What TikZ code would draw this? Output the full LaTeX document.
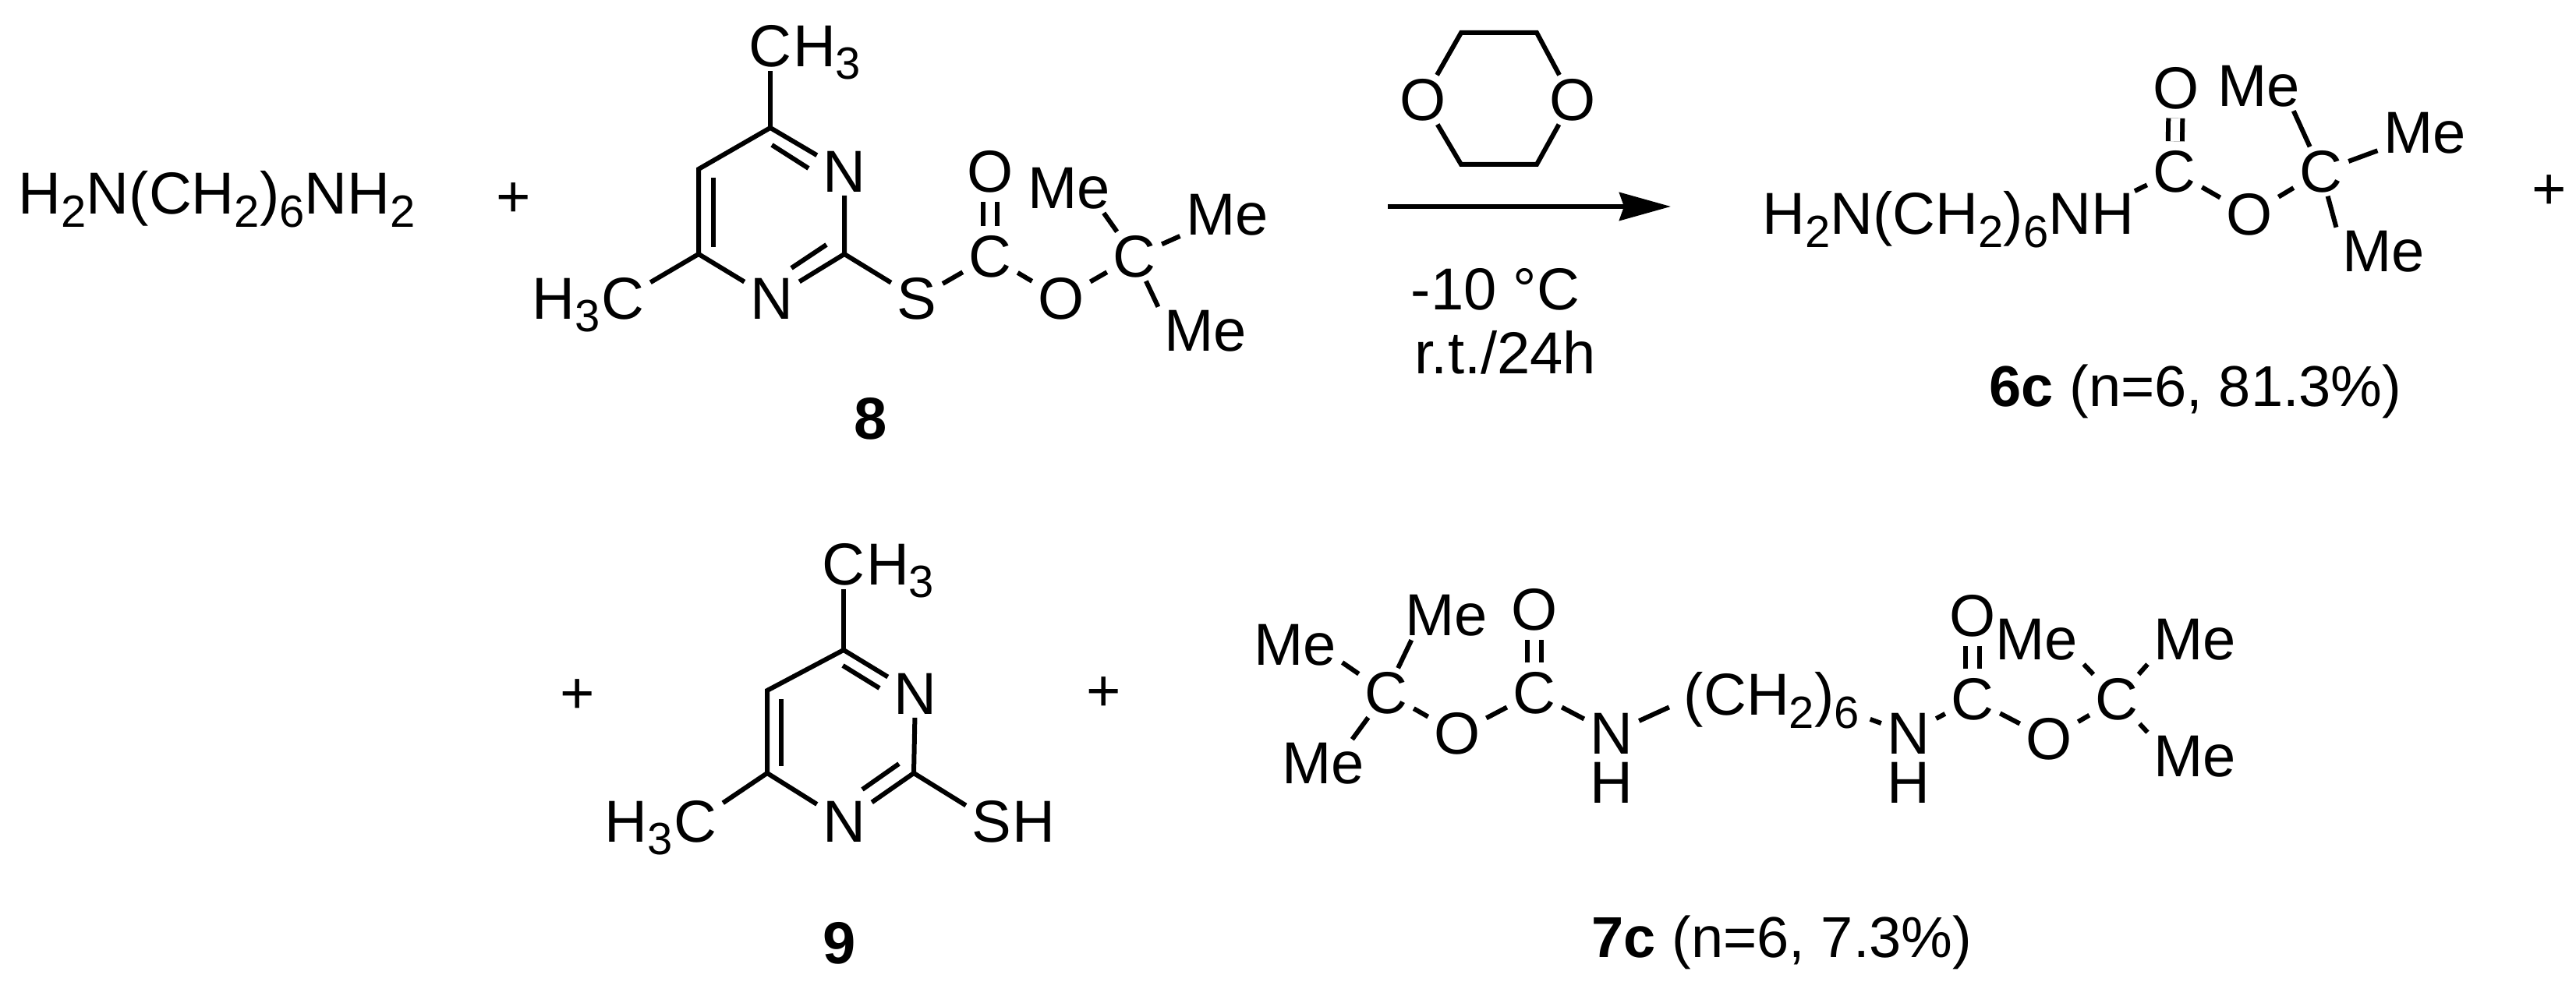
\documentclass[tikz,border=0pt]{standalone}
\usepackage{fontspec}
\setmainfont{Liberation Sans}
\usetikzlibrary{arrows.meta,positioning}

\newcommand{\subnum}[1]{\raisebox{-4.2pt}{\fontsize{14.5}{16}\selectfont #1}}

\tikzset{
	atom/.style={inner xsep=1.75pt, inner ysep=1pt},
	group/.style={inner sep=0pt},
	yield/.style={inner sep=0pt, anchor=base west, font=\fontsize{18.5}{22}\selectfont},
	bond/.style={line width=1.5pt},
	dbond/.style={line width=1.5pt, double, double distance=3pt, shorten <=1.75pt, shorten >=1.75pt},
}

\begin{document}
\begin{tikzpicture}[x=0.25pt, y=-0.25pt]

\def\width{3304}
\def\height{1269}

\fontsize{19}{23}\selectfont
\path [use as bounding box] (0,0) rectangle (\width,\height);

% DIAMINE
\node [group, anchor=base west] (diamine) at (23,275) {H\subnum{2}N(CH\subnum{2})\subnum{6}NH\subnum{2}};
\node [group] (plusa) at (659,257) {+};

% THIOCARBONATE 8
\coordinate (ra1) at (988,164);
\coordinate (ra2) at (896,217);
\coordinate (ra3) at (896,326);
\coordinate (ra4) at (1083,326);
\node [atom] (rna) at (1083,220) {N};
\node [atom] (rnb) at (990,383) {N};
\node [atom] (cha) at (988,59) {C};
\node [group, base right=-1.75pt of cha] (cha3) {H\subnum{3}};
\node [atom] (chb) at (799,383) {C};
\node [group, base left=-1.75pt of chb] (chb3) {H\subnum{3}};
\node [atom] (sa) at (1176,383) {S};
\node [atom] (ca) at (1270,329) {C};
\node [atom] (oa) at (1270,220) {O};
\node [atom] (oe) at (1361,383) {O};
\node [atom] (qa) at (1455,329) {C};
\node [atom] (mea) at (1371,242) {Me};
\node [atom] (meb) at (1574,276) {Me};
\node [atom] (mec) at (1546,425) {Me};
\node [group] (laba) at (1117,537) {\textbf{8}};
\draw [bond] (ra1) -- (cha.south -| ra1);
\draw [bond, line join=miter] (rna) -- (ra1) -- (ra2) -- (ra3) -- (rnb);
\draw [bond] (rnb) -- (ra4) -- (rna);
\draw [bond] (ra3) -- (chb);
\draw [bond] (ra4) -- (sa);
\draw [bond] (sa) -- (ca);
\draw [bond] (ca) -- (oe);
\draw [bond] (oe) -- (qa);
\draw [dbond] (ca) -- (oa);
\draw [bond] (mea.-35) -- (qa);
\draw [bond] (meb) -- (qa);
\draw [bond] (mec.north west) -- (qa);
\coordinate (ia1) at (990,186); \coordinate (ia2) at (1037,216);
\coordinate (ia3) at (915,228); \coordinate (ia4) at (915,317);
\coordinate (ia5) at (1060,314); \coordinate (ia6) at (1015,344);
\draw [bond] (ia1) -- (ia2);
\draw [bond] (ia3) -- (ia4);
\draw [bond] (ia5) -- (ia6);

% CONDITIONS
\coordinate (da1) at (1874,42);
\coordinate (da2) at (1971,42);
\coordinate (da3) at (1971,211);
\coordinate (da4) at (1874,211);
\node [atom] (dol) at (1825,128) {O};
\node [atom] (dor) at (2017,128) {O};
\draw [bond] (dol) -- (da1) -- (da2) -- (dor);
\draw [bond] (dor) -- (da3) -- (da4) -- (dol);
\coordinate (arrs) at (1780,265);
\coordinate (arre) at (2143,265);
\draw [bond, -{Stealth[length=16.5pt, width=9pt, inset=1.5pt]}] (arrs) -- (arre);
\node [group, anchor=base] (temp) at (1918,398) {-10 °C};
\node [group, anchor=base] (time) at (1931,480) {r.t./24h};

% PRODUCT 6C
\node [group, anchor=base east] (mono) at (2738,301) {H\subnum{2}N(CH\subnum{2})\subnum{6}NH};
\node [atom] (cb) at (2789,220) {C};
\node [atom] (ob) at (2791,113) {O};
\node [atom] (oc) at (2885,275) {O};
\node [atom] (qb) at (2977,220) {C};
\node [atom] (med) at (2897,111) {Me};
\node [atom] (mee) at (3110,171) {Me};
\node [atom] (mef) at (3057,323) {Me};
\node [group] (plusb) at (3270,247) {+};
\node [yield] (labb) at (2551,522) {\textbf{6c} (n=6, 81.3\%)};
\draw [bond] (mono.north east) -- (cb);
\draw [dbond] (cb) -- (ob);
\draw [bond] (cb) -- (oc);
\draw [bond] (oc) -- (qb);
\draw [bond] (med.-35) -- (qb);
\draw [bond] (mee) -- (qb);
\draw [bond] (mef.north west) -- (qb);

% MERCAPTAN 9
\node [group] (plusc) at (741,894) {+};
\coordinate (rb1) at (1082,834);
\coordinate (rb2) at (984,886);
\coordinate (rb3) at (984,992);
\coordinate (rb4) at (1172,992);
\node [atom] (rnc) at (1174,890) {N};
\node [atom] (rnd) at (1083,1054) {N};
\node [atom] (chc) at (1082,724) {C};
\node [group, base right=-1.75pt of chc] (chc3) {H\subnum{3}};
\node [atom] (chd) at (892,1054) {C};
\node [group, base left=-1.75pt of chd] (chd3) {H\subnum{3}};
\node [atom] (sb) at (1272,1054) {S};
\node [group, base right=-1.75pt of sb] (sbh) {H};
\node [group] (labc) at (1077,1210) {\textbf{9}};
\node [group] (plusd) at (1416,891) {+};
\draw [bond] (rb1) -- (chc.south -| rb1);
\draw [bond, line join=miter] (rnc) -- (rb1) -- (rb2) -- (rb3) -- (rnd);
\draw [bond] (rnd) -- (rb4) -- (rnc);
\draw [bond] (rb3) -- (chd);
\draw [bond] (rb4) -- (sb);
\coordinate (ib1) at (1081,854); \coordinate (ib2) at (1128,883);
\coordinate (ib3) at (1002,897); \coordinate (ib4) at (1002,983);
\coordinate (ib5) at (1153,980); \coordinate (ib6) at (1106,1013);
\draw [bond] (ib1) -- (ib2);
\draw [bond] (ib3) -- (ib4);
\draw [bond] (ib5) -- (ib6);

% PRODUCT 7C
\node [atom] (meg) at (1855,790) {Me};
\node [atom] (meh) at (1661,828) {Me};
\node [atom] (mei) at (1697,980) {Me};
\node [atom] (qc) at (1778,889) {C};
\node [atom] (od) at (1869,941) {O};
\node [atom] (cc) at (1968,889) {C};
\node [atom] (oe2) at (1968,782) {O};
\node [atom] (na) at (2067,941) {N};
\node [atom] (ha) at (2067,1004) {H};
\node [group, anchor=base west] (chain) at (2159,918) {(CH\subnum{2})\subnum{6}};
\node [atom] (nb) at (2448,941) {N};
\node [atom] (hb) at (2448,1004) {H};
\node [atom] (cd) at (2530,897) {C};
\node [atom] (of) at (2530,790) {O};
\node [atom] (og) at (2628,948) {O};
\node [atom] (qd) at (2715,897) {C};
\node [atom] (mej) at (2612,821) {Me};
\node [atom] (mek) at (2815,821) {Me};
\node [atom] (mel) at (2815,971) {Me};
\node [yield] (labd) at (2041,1228) {\textbf{7c} (n=6, 7.3\%)};
\draw [bond] (meg.-145) -- (qc);
\draw [bond] (meh.-20) -- (qc);
\draw [bond] (mei.40) -- (qc);
\draw [bond] (qc) -- (od);
\draw [bond] (od) -- (cc);
\draw [dbond] (cc) -- (oe2);
\draw [bond] (cc) -- (na);
\draw [bond, shorten >=5pt] (na) -- (chain.west);
\draw [bond, shorten <=3.5pt] (chain.base east) -- (nb);
\draw [bond] (nb) -- (cd);
\draw [dbond] (cd) -- (of);
\draw [bond] (cd) -- (og);
\draw [bond] (og) -- (qd);
\draw [bond] (mej.south east) -- (qd);
\draw [bond] (mek.south west) -- (qd);
\draw [bond] (mel.north west) -- (qd);

\end{tikzpicture}
\end{document}
